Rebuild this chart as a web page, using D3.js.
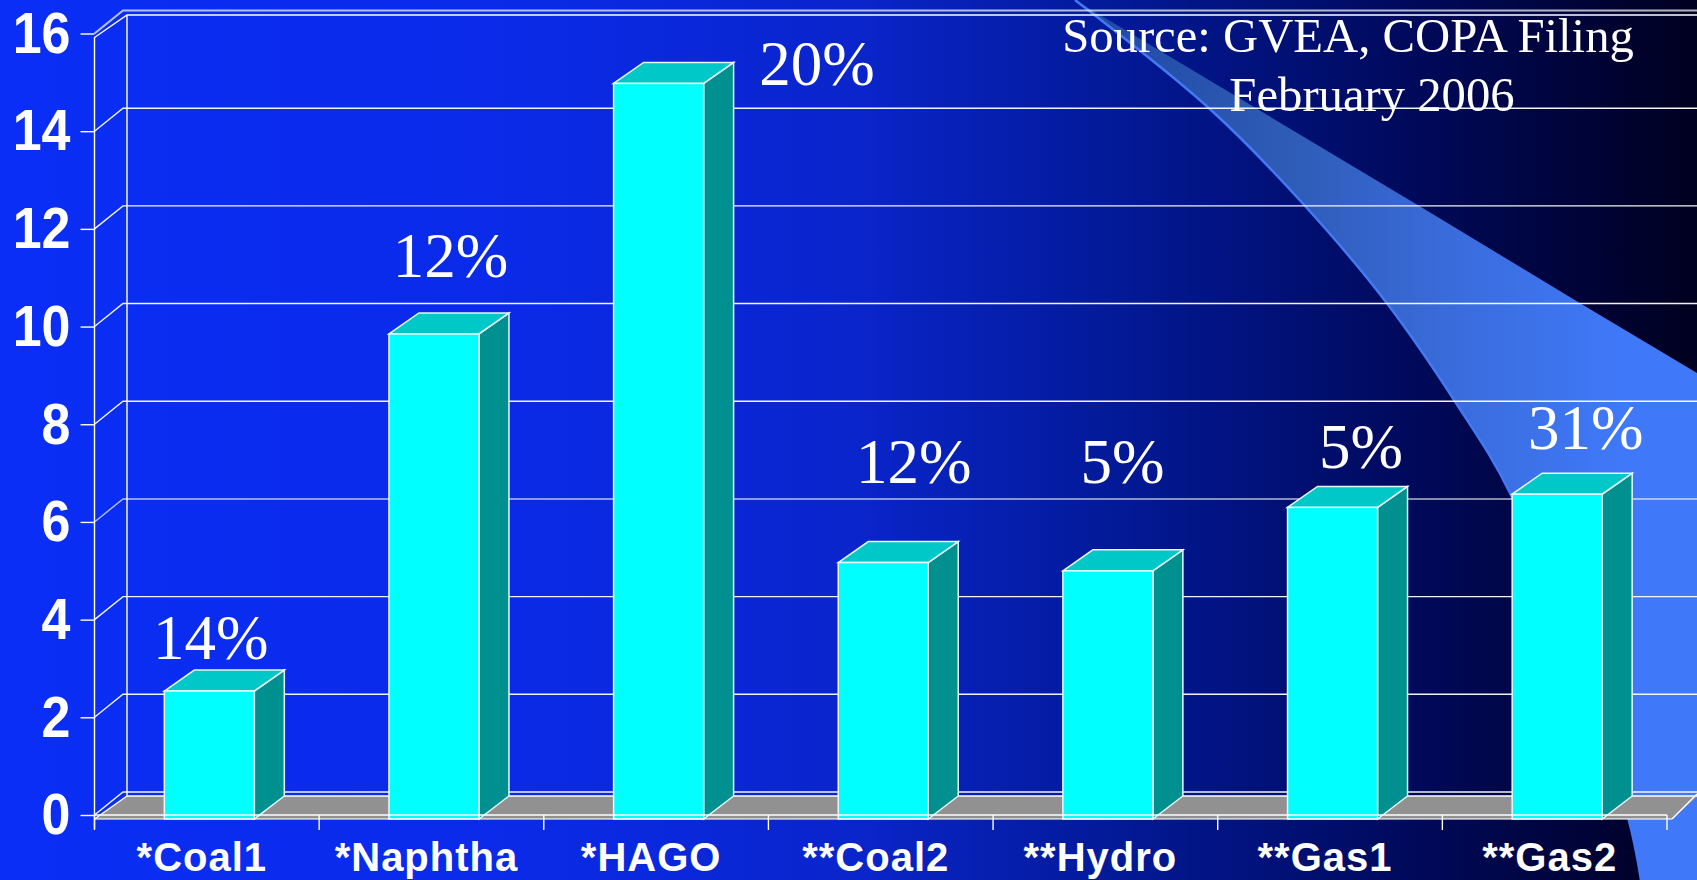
<!DOCTYPE html>
<html>
<head>
<meta charset="utf-8">
<style>
  html, body { margin: 0; padding: 0; background: #000; overflow: hidden; }
  svg { display: block; }
</style>
<script src="https://cdn.jsdelivr.net/npm/d3@7"></script>
</head>
<body>
<div id="chart"></div>
<script>
const categories = ["*Coal1", "*Naphtha", "*HAGO", "**Coal2", "**Hydro", "**Gas1", "**Gas2"];
const values = [2.62, 9.93, 15.06, 5.25, 5.08, 6.38, 6.65];
const shares = ["14%", "12%", "20%", "12%", "5%", "5%", "31%"];
const yTicks = [0, 2, 4, 6, 8, 10, 12, 14, 16];

// where each share label sits relative to its bar
const labelDx = [4, 19, 161, 33, 17, 31, 31];
const labelDy = [-32, -57, 2, -80, -88, -39, -45];

const width = 1697;
const height = 880;
const depthX = 29;
const depthY = 23;
const frontLift = 5; // bars stand a little in front of the axis plane

const svg = d3.select("#chart").append("svg")
  .attr("width", width)
  .attr("height", height);

const defs = svg.append("defs");

const bgGrad = defs.append("linearGradient")
  .attr("id", "bg")
  .attr("x1", "0").attr("x2", "1").attr("y1", "0").attr("y2", "0");
[[0, "#0a2ef6"], [0.3, "#0a2ae8"], [0.5, "#0a25cc"], [0.65, "#031a9a"], [0.8, "#000c66"], [0.92, "#00043c"], [1, "#00001e"]]
  .forEach(s => bgGrad.append("stop").attr("offset", s[0]).attr("stop-color", s[1]));

const swooshGrad = defs.append("linearGradient")
  .attr("id", "swoosh")
  .attr("gradientUnits", "userSpaceOnUse")
  .attr("x1", 1075).attr("x2", 1620).attr("y1", 0).attr("y2", 0);
[[0, "#1f48a0"], [0.4, "#2f5cb8"], [0.7, "#3a6cdc"], [1, "#3f78f8"]]
  .forEach(s => swooshGrad.append("stop").attr("offset", s[0]).attr("stop-color", s[1]));

svg.append("rect")
  .attr("width", width).attr("height", height)
  .attr("fill", "url(#bg)");

// the light band across the slide background
const swooshLower = d3.line().curve(d3.curveCatmullRom)(
  [[1075, 0], [1211, 110], [1306, 207], [1386, 302], [1456, 403], [1510, 493], [1570, 650], [1628, 817], [1641, 880]]
);
svg.append("path")
  .attr("d", swooshLower + "L1697,880L1697,373L1578,302L1421,207Z")
  .attr("fill", "url(#swoosh)");
svg.append("path")
  .attr("d", swooshLower)
  .attr("fill", "none")
  .attr("stroke", "#4379f5")
  .attr("stroke-width", 2.5);

const x = d3.scaleBand()
  .domain(categories)
  .range([94.5, 1667])
  .paddingInner(0)
  .paddingOuter(0);

const y = d3.scaleLinear().domain([0, 16]).range([815, 33.5]);

const barWidth = 90;
const barX = d => x(d) + (x.bandwidth() - barWidth) / 2 + 2.5;
const floorFront = y(0) + frontLift - 1;
const floorBack = floorFront - depthY;
const gridColor = "#ffffff";

// floor
svg.append("polygon")
  .attr("points", [
    [x.range()[0], floorFront],
    [x.range()[0] + depthX + 3, floorBack],
    [width, floorBack],
    [width, floorBack + 1],
    [x.range()[1] + 5, floorFront]
  ].join(" "))
  .attr("fill", "#919191");

// back wall gridlines and their slanted returns
const grid = svg.append("g").attr("fill", "none").attr("stroke", gridColor).attr("stroke-width", 1.4);
yTicks.forEach(t => {
  const gy = y(t);
  grid.append("path")
    .attr("d", `M${x.range()[0]},${gy}L${x.range()[0] + 28.5},${gy - 23}H${width}`)
    .attr("stroke-opacity", t === 16 || t === 6 ? 0.7 : 0.95)
    .attr("stroke-width", t === 16 ? 2 : 1.4);
});
// outer frame of the walls
grid.append("path")
  .attr("d", `M${x.range()[0]},${y(16) + 4}L127,15H${width}`);
grid.append("path")
  .attr("d", `M127,15V${floorBack}H${width}`);
grid.append("path")
  .attr("d", `M${x.range()[0]},${floorFront}L127,${floorBack}`);

// bars
const bars = svg.append("g").selectAll("g")
  .data(categories)
  .join("g");

const barTop = (d, i) => y(values[i]) + frontLift - 1;

bars.append("polygon")
  .attr("points", (d, i) => {
    const r = barX(d) + barWidth;
    const t = barTop(d, i);
    return [[r, t], [r + 30, t - 21], [r + 30, floorBack], [r, floorFront]].join(" ");
  })
  .attr("fill", "#009090")
  .attr("stroke", "#e8f8f8")
  .attr("stroke-width", 1.5);

bars.append("polygon")
  .attr("points", (d, i) => {
    const l = barX(d);
    const t = barTop(d, i);
    return [[l, t], [l + 30, t - 21], [l + barWidth + 30, t - 21], [l + barWidth, t]].join(" ");
  })
  .attr("fill", "#00c8c8")
  .attr("stroke", "#e8f8f8")
  .attr("stroke-width", 1.5);

bars.append("rect")
  .attr("x", d => barX(d))
  .attr("y", barTop)
  .attr("width", barWidth)
  .attr("height", (d, i) => floorFront - barTop(d, i))
  .attr("fill", "#00ffff")
  .attr("stroke", "#e8f8f8")
  .attr("stroke-width", 1.5);

// front floor edges
svg.append("line")
  .attr("x1", x.range()[0]).attr("x2", x.range()[1] + 5)
  .attr("y1", floorFront).attr("y2", floorFront)
  .attr("stroke", "#ffffff").attr("stroke-opacity", 0.75).attr("stroke-width", 1.4);
svg.append("line")
  .attr("x1", x.range()[1] + 5).attr("x2", width)
  .attr("y1", floorFront).attr("y2", floorBack - 2)
  .attr("stroke", "#ffffff").attr("stroke-width", 1.4);

// y axis
const yAxis = svg.append("g")
  .attr("transform", `translate(${x.range()[0]},0)`)
  .call(d3.axisLeft(y).tickValues(yTicks).tickSize(14).tickPadding(10));
yAxis.select(".domain").attr("stroke", "#fff").attr("stroke-width", 1.4).attr("d", `M0,37V829`);
yAxis.selectAll(".tick line").attr("stroke", "#fff").attr("stroke-width", 1.4);
yAxis.selectAll(".tick text")
  .attr("fill", "#fff")
  .attr("font-family", "'Liberation Sans', Arial, sans-serif")
  .attr("font-weight", "700")
  .attr("font-size", 52)
  .style("transform-box", "fill-box")
  .style("transform-origin", "center")
  .style("transform", "scaleY(1.12)");

// x axis: ticks mark the category boundaries
const xAxis = svg.append("g")
  .attr("transform", `translate(0,${y(0)})`);
xAxis.append("line")
  .attr("x1", x.range()[0]).attr("x2", x.range()[1])
  .attr("stroke", "#fff").attr("stroke-width", 1.4);
xAxis.selectAll(".boundary")
  .data(categories.map(d => x(d)).concat(x.range()[1]))
  .join("line")
  .attr("class", "boundary")
  .attr("x1", d => d).attr("x2", d => d)
  .attr("y1", 0).attr("y2", 15)
  .attr("stroke", "#fff").attr("stroke-width", 1.4);

svg.append("g").selectAll("text")
  .data(categories)
  .join("text")
  .attr("x", d => x(d) + x.bandwidth() / 2 - 5)
  .attr("y", 871)
  .attr("text-anchor", "middle")
  .attr("fill", "#fff")
  .attr("font-family", "'Liberation Sans', Arial, sans-serif")
  .attr("font-weight", "700")
  .attr("font-size", 40)
  .attr("letter-spacing", 1)
  .text(d => d);

// share labels
svg.append("g").selectAll("text")
  .data(categories)
  .join("text")
  .attr("x", (d, i) => x(d) + x.bandwidth() / 2 + labelDx[i])
  .attr("y", (d, i) => barTop(d, i) + labelDy[i])
  .attr("text-anchor", "middle")
  .attr("fill", "#fff")
  .attr("font-family", "'Liberation Serif', 'Times New Roman', serif")
  .attr("font-size", 63)
  .text((d, i) => shares[i]);

// source note
const note = svg.append("g")
  .attr("text-anchor", "middle")
  .attr("fill", "#fff")
  .attr("font-family", "'Liberation Serif', 'Times New Roman', serif")
  .attr("font-size", 48.7);
note.append("text").attr("x", 1348).attr("y", 52).text("Source: GVEA, COPA Filing");
note.append("text").attr("x", 1372).attr("y", 111).text("February 2006");
</script>
</body>
</html>
